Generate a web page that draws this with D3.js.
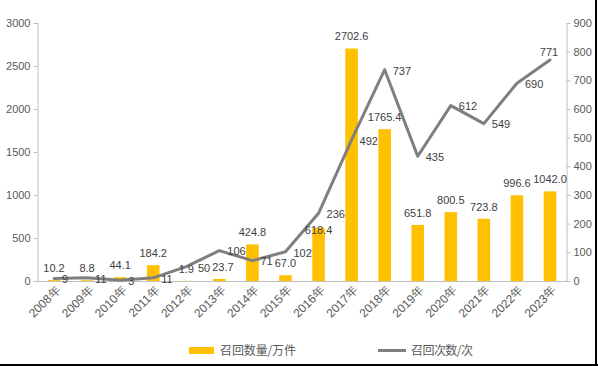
<!DOCTYPE html>
<html><head><meta charset="utf-8">
<script src="https://cdn.jsdelivr.net/npm/d3@7"></script>
<style>
html,body{margin:0;padding:0;background:#fff;}
svg{display:block;}
</style></head>
<body>
<svg id="chart" width="598" height="366"></svg>
<script>
const years = ["2008年","2009年","2010年","2011年","2012年","2013年","2014年","2015年","2016年","2017年","2018年","2019年","2020年","2021年","2022年","2023年"];
const recallQty = [10.2, 8.8, 44.1, 184.2, 1.9, 23.7, 424.8, 67.0, 618.4, 2702.6, 1765.4, 651.8, 800.5, 723.8, 996.6, 1042.0];
const recallCount = [9, 11, 3, 11, 50, 106, 71, 102, 236, 492, 737, 435, 612, 549, 690, 771];
const leftTicks = [0, 500, 1000, 1500, 2000, 2500, 3000];
const rightTicks = [0, 100, 200, 300, 400, 500, 600, 700, 800, 900];
const seriesNames = ["召回数量/万件", "召回次数/次"];

const svg = d3.select("#chart");
const font = "'Liberation Sans', Arial, sans-serif";
const barColor = "#FFC000", lineColor = "#7F7F7F", axisColor = "#BFBFBF", tickText = "#595959", labelText = "#404040";

const x = d3.scaleBand().domain(years).range([37.5, 566.5]).paddingInner(0.62).paddingOuter(0.31);
const yL = d3.scaleLinear().domain([0, 3000]).range([281, 23]);
const yR = d3.scaleLinear().domain([0, 900]).range([281, 23]);
const cx = d => x(d) + x.bandwidth() / 2;

// axes
const gL = svg.append("g").attr("transform", "translate(37.5,0)")
  .call(d3.axisLeft(yL).tickValues(leftTicks).tickSize(4).tickPadding(3).tickFormat(d3.format("d")));
const gR = svg.append("g").attr("transform", "translate(566.5,0)")
  .call(d3.axisRight(yR).tickValues(rightTicks).tickSize(4).tickPadding(3).tickFormat(d3.format("d")));
const gX = svg.append("g").attr("transform", "translate(0,281.5)")
  .call(d3.axisBottom(x).tickSize(0).tickFormat(""));
[gL, gR, gX].forEach(g => {
  g.selectAll("path.domain").attr("stroke", axisColor);
  g.selectAll(".tick line").attr("stroke", axisColor);
  g.selectAll("text").attr("fill", tickText).style("font-family", font).style("font-size", "11px");
});
gX.select("path.domain").attr("d", "M37.5,0H566.5");

// x labels rotated
svg.append("g").selectAll("text").data(years).join("text")
  .attr("transform", d => `translate(${cx(d) + 4},288) rotate(-45)`)
  .attr("text-anchor", "end").attr("dy", "0.35em")
  .attr("fill", tickText).style("font-family", font).style("font-size", "12px")
  .text(d => d);

// bars
svg.append("g").selectAll("rect").data(years).join("rect")
  .attr("x", d => x(d)).attr("width", x.bandwidth())
  .attr("y", (d, i) => yL(recallQty[i]))
  .attr("height", (d, i) => yL(0) - yL(recallQty[i]))
  .attr("fill", barColor);

// line
const line = d3.line().x((d, i) => cx(years[i])).y(d => yR(d));
svg.append("path").datum(recallCount).attr("d", line)
  .attr("fill", "none").attr("stroke", lineColor).attr("stroke-width", 3)
  .attr("stroke-linejoin", "round").attr("stroke-linecap", "round");

// bar labels
const barLabels = svg.append("g").selectAll("text").data(years).join("text")
  .attr("x", d => cx(d)).attr("y", (d, i) => yL(recallQty[i]) - 12)
  .attr("dy", "0.35em")
  .attr("text-anchor", "middle").attr("fill", labelText)
  .style("font-family", font).style("font-size", "11px")
  .text((d, i) => d3.format(".1f")(recallQty[i]));

// line labels
const last = years.length - 1;
const lineLabels = svg.append("g").selectAll("text").data(years).join("text")
  .attr("x", (d, i) => i === last ? cx(d) - 1 : cx(d) + 8)
  .attr("y", (d, i) => i === last ? yR(recallCount[i]) - 8 : yR(recallCount[i]) + 1)
  .attr("text-anchor", (d, i) => i === last ? "middle" : "start")
  .attr("dy", "0.35em").attr("fill", labelText)
  .style("font-family", font).style("font-size", "11px")
  .text((d, i) => recallCount[i]);

// resolve label collisions
const bNodes = barLabels.nodes(), lNodes = lineLabels.nodes();
const overlap = (a, b, m) => {
  const xo = a.x < b.x + b.width + m && b.x < a.x + a.width + m;
  const yo = Math.min(a.y + a.height, b.y + b.height) - Math.max(a.y, b.y) > 5;
  return xo && yo;
};
years.forEach((d, i) => {
  const bb = bNodes[i].getBBox(), lb = lNodes[i].getBBox();
  if (overlap(bb, lb, 4)) {
    const lineCenter = lb.y + lb.height / 2;
    const newY = lineCenter + 16;
    if (newY + 6 < yL(0) - 2) {
      d3.select(bNodes[i]).attr("y", newY);
    } else {
      d3.select(lNodes[i]).attr("x", bb.x + bb.width + 4);
    }
  }
  // keep line label clear of next category's bar label
  if (i < last) {
    const lb2 = lNodes[i].getBBox(), nb = bNodes[i + 1].getBBox();
    if (overlap(lb2, nb, 2)) {
      const shift = lb2.x + lb2.width + 2 - nb.x;
      if (shift > 0) d3.select(bNodes[i + 1]).attr("x", +d3.select(bNodes[i + 1]).attr("x") + shift);
    }
  }
});

// legend
const lg = svg.append("g");
lg.append("rect").attr("x", 189).attr("y", 347).attr("width", 25).attr("height", 7).attr("fill", barColor);
lg.append("text").attr("x", 220).attr("y", 350.5).attr("dy", "0.35em")
  .attr("fill", tickText).style("font-family", "'Noto Sans CJK SC', sans-serif").style("font-size", "12px")
  .attr("textLength", 76).text(seriesNames[0]);
lg.append("line").attr("x1", 378).attr("x2", 406).attr("y1", 350.5).attr("y2", 350.5)
  .attr("stroke", lineColor).attr("stroke-width", 3);
lg.append("text").attr("x", 411).attr("y", 350.5).attr("dy", "0.35em")
  .attr("fill", tickText).style("font-family", "'Noto Sans CJK SC', sans-serif").style("font-size", "12px")
  .attr("textLength", 62).text(seriesNames[1]);

// frame edges
svg.append("line").attr("x1", 596).attr("x2", 596).attr("y1", 0).attr("y2", 366).attr("stroke", "#000").attr("stroke-width", 2);
svg.append("line").attr("x1", 0).attr("x2", 598).attr("y1", 365).attr("y2", 365).attr("stroke", "#000").attr("stroke-width", 2);
</script>
</body></html>
